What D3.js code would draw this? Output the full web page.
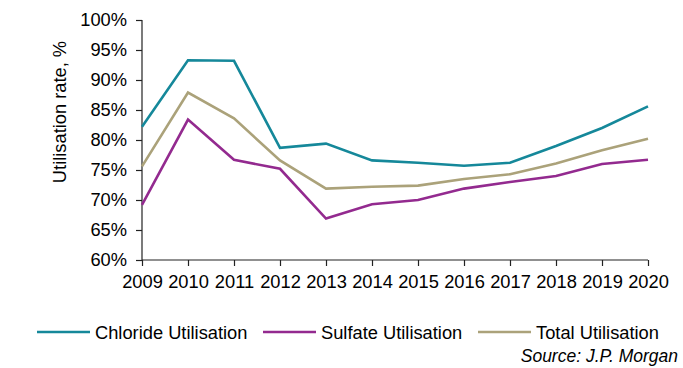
<!DOCTYPE html>
<html>
<head>
<meta charset="utf-8">
<script src="https://cdn.jsdelivr.net/npm/d3@7"></script>
<style>
  html, body { margin: 0; padding: 0; background: #fff; }
  svg { display: block; }
  text { font-family: "Liberation Sans", Arial, sans-serif; fill: #000; }
</style>
</head>
<body>
<svg id="chart" width="683" height="368"></svg>
<script>
// Utilisation rates by year (%)
const years = [2009, 2010, 2011, 2012, 2013, 2014, 2015, 2016, 2017, 2018, 2019, 2020];
const chloride = [82.2, 93.3, 93.2, 78.7, 79.4, 76.6, 76.2, 75.7, 76.2, 79.0, 82.0, 85.6];
const sulfate  = [69.2, 83.4, 76.7, 75.2, 66.9, 69.3, 70.0, 71.9, 73.0, 74.0, 76.0, 76.7];
const total    = [75.6, 87.9, 83.6, 76.6, 71.9, 72.2, 72.4, 73.5, 74.3, 76.1, 78.3, 80.2];
const yTicks = [60, 65, 70, 75, 80, 85, 90, 95, 100];

const series = [
  { name: "Chloride Utilisation", values: chloride, color: "#15889a" },
  { name: "Sulfate Utilisation",  values: sulfate,  color: "#932a8f" },
  { name: "Total Utilisation",    values: total,    color: "#aba27a" }
];

const svg = d3.select("#chart");
const plotLeft = 142, plotRight = 648, plotTop = 20, plotBottom = 260;
const fontSize = "18.3px";

const x = d3.scaleLinear().domain([2009, 2020]).range([plotLeft, plotRight]);
const y = d3.scaleLinear().domain([60, 100]).range([plotBottom, plotTop]);

// Axes
const yAxis = d3.axisLeft(y).tickValues(yTicks).tickSize(6).tickPadding(9)
  .tickFormat(d => d + "%");
const xAxis = d3.axisBottom(x).tickValues(years).tickSize(6).tickPadding(9)
  .tickFormat(d3.format("d"));

const gy = svg.append("g").attr("transform", `translate(${plotLeft},0)`).call(yAxis);
const gx = svg.append("g").attr("transform", `translate(0,${plotBottom})`).call(xAxis);

[gx, gy].forEach(g => {
  g.select(".domain").attr("stroke", "#222").attr("stroke-width", 1.2);
  g.selectAll(".tick line").attr("stroke", "#222").attr("stroke-width", 1.2);
  g.selectAll(".tick text")
    .style("font-family", '"Liberation Sans", Arial, sans-serif')
    .style("font-size", fontSize).attr("fill", "#000");
});
// plain domain lines without outer tick stubs
gy.select(".domain").attr("d", `M0,${plotTop}V${plotBottom}`);
gx.select(".domain").attr("d", `M${plotLeft},0H${plotRight}`);

// Axis title
svg.append("text")
  .attr("transform", `translate(66,112) rotate(-90)`)
  .attr("text-anchor", "middle")
  .style("font-size", fontSize)
  .text("Utilisation rate, %");

// Lines
const line = d3.line()
  .x((d, i) => x(years[i]))
  .y(d => y(d));

series.forEach(s => {
  svg.append("path")
    .datum(s.values)
    .attr("fill", "none")
    .attr("stroke", s.color)
    .attr("stroke-width", 2.6)
    .attr("stroke-linejoin", "miter")
    .attr("d", line);
});

// Legend
const legendX = [37, 263, 478];
const legendY = 332;
series.forEach((s, i) => {
  const g = svg.append("g").attr("transform", `translate(${legendX[i]},${legendY})`);
  g.append("line").attr("x1", 0).attr("x2", 53).attr("y1", 0).attr("y2", 0)
    .attr("stroke", s.color).attr("stroke-width", 2.6);
  g.append("text").attr("x", 58).attr("y", 6.5)
    .style("font-size", fontSize).text(s.name);
});

// Source note
svg.append("text")
  .attr("x", 678).attr("y", 362)
  .attr("text-anchor", "end")
  .style("font-size", "17.5px").style("font-style", "italic")
  .text("Source: J.P. Morgan");
</script>
</body>
</html>
